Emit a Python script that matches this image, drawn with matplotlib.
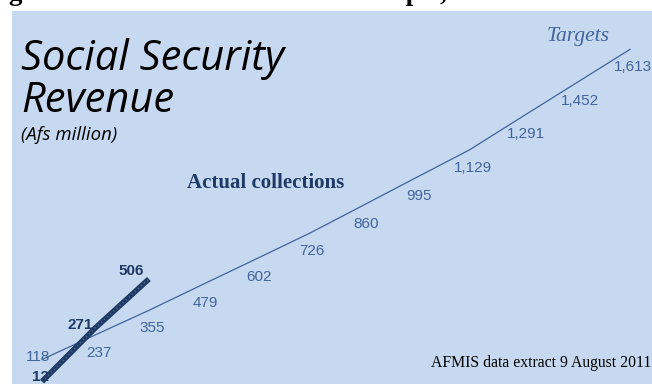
import matplotlib
matplotlib.use("Agg")
import matplotlib.pyplot as plt

# Monthly social security revenue (Afs million), cumulative
months = list(range(12))
targets = [118, 237, 355, 479, 602, 726, 860, 995, 1129, 1291, 1452, 1613]
actuals = [12, 271, 506]

BG = "#C6D9F0"
TARGET_C = "#42649A"
ACTUAL_C = "#1F3A64"

W, H = 652, 384
fig = plt.figure(figsize=(W / 100, H / 100), dpi=100)
fig.patch.set_facecolor("white")

ax = fig.add_axes([12 / W, 0, 640 / W, 373 / H])
ax.set_facecolor(BG)
for s in ax.spines.values():
    s.set_visible(False)
ax.set_xticks([])
ax.set_yticks([])

px_x = 53.45
ax.set_xlim(-30 / px_x, 11 + 22 / px_x)
ax.set_ylim(0, 1798)


def ax_xy(px, py):
    """Pixel position in the figure -> axes fraction."""
    return (px - 12) / 640, 1 - (py - 11) / 373


# Target line
ax.plot(months, targets, color=TARGET_C, lw=0.9, clip_on=False)
for i, v in enumerate(targets):
    off = (-4, 3) if i == 0 else (3, -18)
    ax.annotate(f"{v:,}", (i, v), xytext=off, textcoords="offset pixels",
                ha="center", va="center", fontsize=11, color=TARGET_C,
                family="Liberation Sans")

# Actual collections line (thick, textured)
xa = months[:len(actuals)]
ax.plot(xa, actuals, color=ACTUAL_C, lw=4.0, solid_capstyle="butt", clip_on=False)
ax.plot(xa, actuals, color="#4A6890", lw=1.0, ls=(0, (1, 2)), clip_on=False)
act_offsets = [(-2, 5), (-15, 3), (-18, 8)]
for (x, v), off in zip(zip(xa, actuals), act_offsets):
    ax.annotate(f"{v:,}", (x, v), xytext=off, textcoords="offset pixels",
                ha="center", va="center", fontsize=11, fontweight="bold",
                color=ACTUAL_C, family="Liberation Sans")

# Titles and notes
ax.text(*ax_xy(21, 70), "Social Security", transform=ax.transAxes,
        fontsize=30, style="italic", family="Open Sans", color="black",
        ha="left", va="baseline")
ax.text(*ax_xy(21, 112), "Revenue", transform=ax.transAxes,
        fontsize=30, style="italic", family="Open Sans", color="black",
        ha="left", va="baseline")
ax.text(*ax_xy(21, 135), "(Afs million)", transform=ax.transAxes,
        fontsize=13.4, style="italic", family="Open Sans", color="black",
        ha="left", va="center")

ax.text(*ax_xy(266, 183), "Actual collections",
        transform=ax.transAxes, fontsize=15, fontweight="bold",
        family="Liberation Serif", color=ACTUAL_C, ha="center", va="center")
ax.text(*ax_xy(578, 36), "Targets",
        transform=ax.transAxes, fontsize=15.5, style="italic",
        family="Liberation Serif", color=TARGET_C, ha="center", va="center")
ax.text(*ax_xy(651, 363), "AFMIS data extract 9 August 2011",
        transform=ax.transAxes, fontsize=11.3, family="Liberation Serif",
        color="black", ha="right", va="center")

# Caption line above the chart area
fig.text(-15 / W, 1.0, "Figure 10: Social Contribution Receipts, FY 1389 - 1390",
         fontsize=19.4, fontweight="bold", family="Liberation Serif",
         color="black", ha="left", va="baseline")

fig.savefig("out.png", dpi=100, facecolor=fig.get_facecolor())
